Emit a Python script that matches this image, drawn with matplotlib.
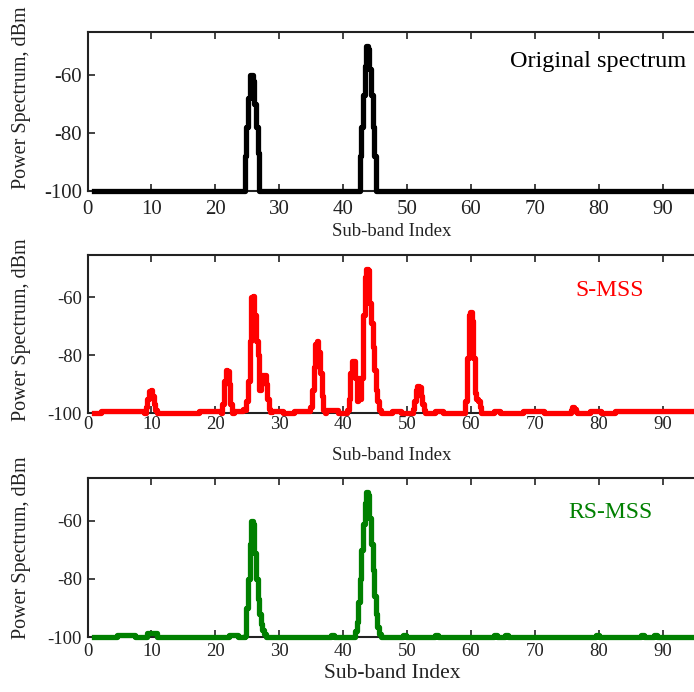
import numpy as np
import matplotlib
matplotlib.use("Agg")
import matplotlib.pyplot as plt

plt.rcParams["font.family"] = ["Liberation Serif", "DejaVu Serif"]
plt.rcParams["axes.unicode_minus"] = False

# sub-band index grid (0.25 step)
sub_band = np.arange(1.0, 95.01, 0.25)
FLOOR = -100.0

# original spectrum: two occupied bands
orig_x = [24.75, 25.0, 25.25, 25.5, 25.75, 26.0, 26.25, 26.5, 26.75,
          42.75, 43.0, 43.25, 43.5, 43.75, 44.0, 44.25, 44.5, 44.75, 45.0]
orig_db = [-88, -78, -68, -60, -60, -62, -70, -78, -87,
           -88, -78, -67, -57, -50, -51, -58, -67, -78, -88]

# S-MSS reconstruction
smss_x = [9.25, 9.5, 9.75, 10.0, 10.25, 10.5, 10.75,
          21.25, 21.5, 21.75, 22.0, 22.25, 22.5,
          24.5, 24.75, 25.0, 25.25, 25.5, 25.75, 26.0, 26.25, 26.5, 26.75,
          27.0, 27.25, 27.5, 27.75, 28.0, 28.25, 28.5, 28.75,
          35.0, 35.25, 35.5, 35.75, 36.0, 36.25, 36.5, 36.75, 37.0,
          40.75, 41.0, 41.25, 41.5, 41.75, 42.0, 42.25, 42.5, 42.75, 43.0,
          43.25, 43.5, 43.75, 44.0, 44.25, 44.5, 44.75, 45.0, 45.25, 45.5,
          45.75,
          51.0, 51.25, 51.5, 51.75, 52.0, 52.25, 52.5, 52.75,
          59.25, 59.5, 59.75, 60.0, 60.25, 60.5, 60.75, 61.0, 61.25, 61.5,
          75.75, 76.0, 76.25, 76.5]
smss_db = [-98, -95, -92.5, -92, -94, -97, -99,
           -97, -89, -85, -85.5, -90, -97,
           -98.5, -99, -96, -89, -75, -60, -59.5, -66, -75, -80,
           -92, -88, -87, -87, -90, -95, -98.5, -99.5,
           -98, -92, -84, -76, -75, -79, -86, -94, -99,
           -99, -95, -86, -82, -82, -88, -96, -88, -95, -88,
           -66, -53, -50, -50.5, -62, -69, -77, -85, -92, -96,
           -99,
           -98.5, -96, -92, -90.5, -91, -94, -97, -99,
           -96, -81, -66, -65, -68, -81, -93, -95, -96, -98,
           -99, -98, -98.5, -99.5]
# low-level residue along the floor: (from, to, level)
smss_floor = [(2.25, 8.75, -99.3), (17.5, 20.75, -99.3), (23.0, 24.25, -99.2),
              (29.0, 30.5, -99.4), (32.5, 34.75, -99.3), (37.5, 39.0, -99.0),
              (47.75, 49.0, -99.4), (54.5, 55.5, -99.4), (63.75, 64.5, -99.4),
              (68.25, 71.25, -99.4), (78.75, 80.25, -99.4), (82.75, 95.0, -99.4)]

# RS-MSS reconstruction
rsmss_x = [24.75, 25.0, 25.25, 25.5, 25.75, 26.0, 26.25, 26.5, 26.75,
           27.0, 27.25, 27.5, 27.75,
           42.0, 42.25, 42.5, 42.75, 43.0, 43.25, 43.5, 43.75, 44.0, 44.25,
           44.5, 44.75, 45.0, 45.25, 45.5, 45.75]
rsmss_db = [-99.5, -90, -80, -68, -60, -61, -71, -80, -87,
            -92, -95.5, -97.5, -99,
            -98, -95, -88, -80, -70, -61, -54, -50, -51, -59,
            -68, -77, -86, -92, -96.5, -99]
rsmss_floor = [(4.75, 7.25, -99.4), (9.5, 10.75, -98.7), (22.25, 23.5, -99.4),
               (38.25, 38.5, -99.4), (49.5, 49.75, -99.4), (54.5, 54.75, -99.4),
               (63.75, 64.0, -99.4), (65.5, 65.75, -99.4), (79.75, 80.0, -99.4),
               (86.75, 87.0, -99.4), (88.75, 89.0, -99.4)]

xticks = list(range(0, 100, 10))
yticks = [-100, -80, -60]


def build(xs, dbs, floor_runs=()):
    y = np.full(sub_band.shape, FLOOR)
    for a, b, lvl in floor_runs:
        y[(sub_band >= a - 1e-9) & (sub_band <= b + 1e-9)] = lvl
    for xv, dv in zip(xs, dbs):
        y[np.argmin(np.abs(sub_band - xv))] = dv
    return y


W, H = 694, 692
fig = plt.figure(figsize=(W / 100, H / 100), dpi=100)


def fx(px):
    return px / W


def fy(py):
    return 1 - py / H


panels = [
    # (top px, bottom px, series, colour, tag, tag pos, tick size, xlab y, ylab y, xlab size, tick pad)
    (32, 191, build(orig_x, orig_db), "black", "Original spectrum",
     (686, 61, "right"), 15, 231, 98, 13.5, 6.5),
    (255, 413, build(smss_x, smss_db, smss_floor), "red", "S-MSS",
     (610, 291, "center"), 13.5, 455, 330, 13.5, 2.5),
    (478, 637, build(rsmss_x, rsmss_db, rsmss_floor), "green", "RS-MSS",
     (610, 512, "center"), 13.5, 673, 548, 15.5, 4),
]

left_px = 87.5
for top, bot, y, col, tag, (tx, ty, ha), tsz, xly, yly, xlsz, pad in panels:
    ax = fig.add_axes([fx(left_px), fy(bot), 1 - fx(left_px), (bot - top) / H])
    ax.plot(sub_band, y, color=col, lw=3.8, drawstyle="steps-mid",
            clip_on=False, zorder=3)
    ax.set_xlim(0, (W - left_px) / 6.39)
    ax.set_ylim(-100, -45.3)
    ax.set_xticks(xticks)
    ax.set_yticks(yticks)
    ax.tick_params(direction="in", top=True, right=False, length=5, width=1.2,
                   labelsize=tsz, colors="#222222")
    ax.tick_params(axis="x", pad=pad)
    ax.tick_params(axis="y", pad=4)
    for side in ("top", "bottom", "left"):
        ax.spines[side].set_linewidth(1.5)
        ax.spines[side].set_color("#222222")
        ax.spines[side].set_zorder(1)
    ax.spines["right"].set_visible(False)

    fig.text(fx(tx), fy(ty), tag, color=col, fontsize=17.5 if col == "black" else 17,
             ha=ha, va="center")
    fig.text(fx(392), fy(xly), "Sub-band Index", fontsize=xlsz,
             ha="center", va="center", color="#222222")
    fig.text(fx(22), fy(yly), "Power Spectrum, dBm", fontsize=14.5,
             rotation=90, ha="center", va="center", color="#222222")

fig.savefig("out.png", dpi=100)
